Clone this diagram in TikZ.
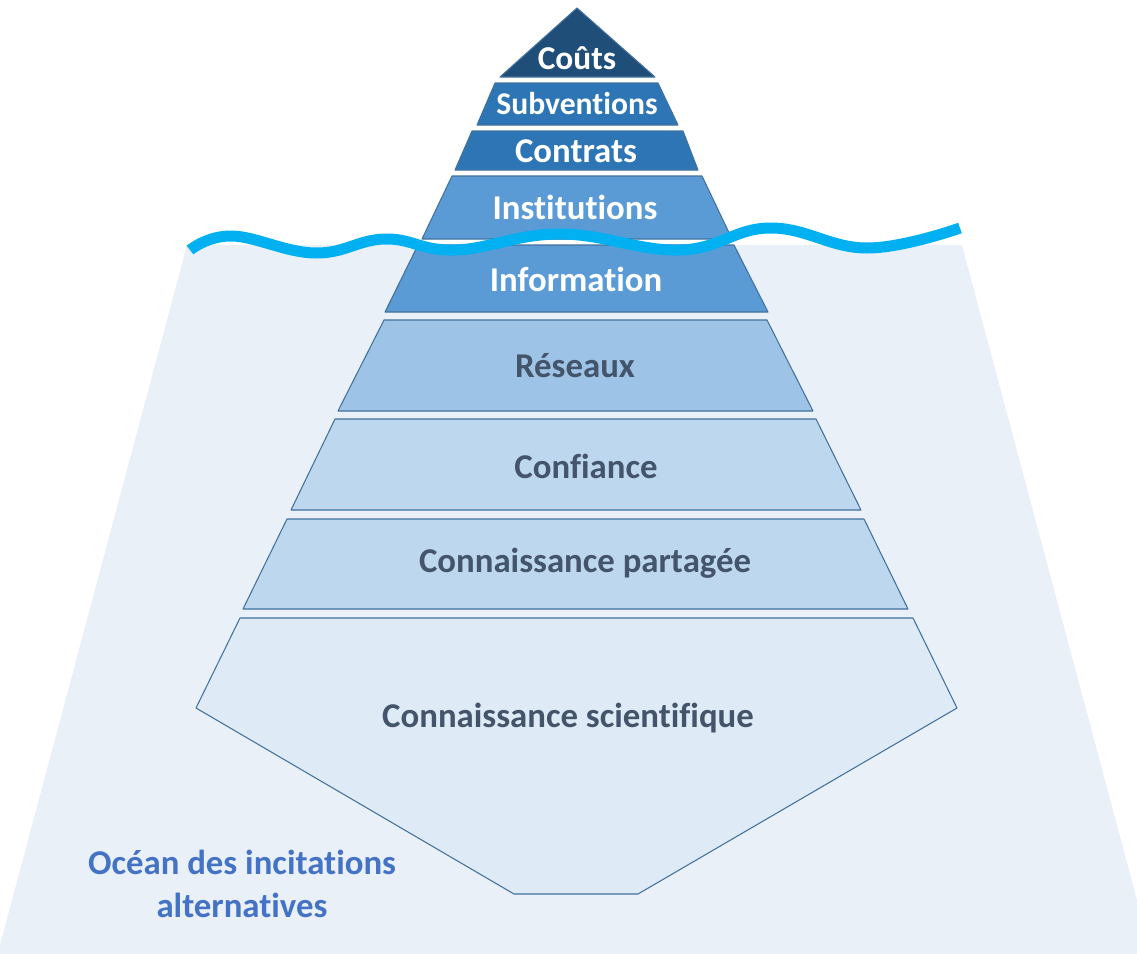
\documentclass[tikz,border=0pt]{standalone}
\usepackage{fontspec}
\setmainfont{Carlito}[Ligatures=NoCommon]
\usepackage{tikz}
\definecolor{coutsblue}{RGB}{31,78,121}
\definecolor{midblue}{RGB}{46,117,182}
\definecolor{iceblue}{RGB}{91,155,213}
\definecolor{paleblue}{RGB}{157,195,230}
\definecolor{lightblue}{RGB}{189,215,238}
\definecolor{mistblue}{RGB}{222,235,247}
\definecolor{edgeblue}{RGB}{65,113,156}
\definecolor{slatetext}{RGB}{68,84,106}
\definecolor{oceantext}{RGB}{68,114,196}
\definecolor{oceanfill}{RGB}{234,240,248}
\definecolor{waveblue}{RGB}{0,176,240}

\begin{document}
\begin{tikzpicture}[x=0.02cm,y=-0.02cm,
  band/.style={draw=edgeblue,line width=0.6pt,line join=round},
  uplabel/.style={text=white,font=\bfseries\fontsize{19.8}{22}\selectfont},
  lowlabel/.style={text=slatetext,font=\bfseries\fontsize{19.8}{22}\selectfont},
  oceanlabel/.style={text=oceantext,align=center,font=\bfseries\fontsize{19.8}{24.4}\selectfont}]
  \useasboundingbox (0,0) rectangle (1137,954);
  % ocean below the waterline
  \fill[oceanfill] (187,245) -- (962,245) -- (1137,900) -- (1137,954) -- (0,954) -- (0,945) -- cycle;
  % part of the iceberg above water
  \filldraw[band,fill=coutsblue] (577,8) -- (655,77) -- (500,77) -- cycle;
  \filldraw[band,fill=midblue] (495,83) -- (658,83) -- (678,125) -- (477,125) -- cycle;
  \filldraw[band,fill=midblue] (472,131) -- (683,131) -- (698,170) -- (455,170) -- cycle;
  \filldraw[band,fill=iceblue] (452,176) -- (702,176) -- (732,239) -- (422,239) -- cycle;
  % part below water
  \filldraw[band,fill=iceblue] (418,245) -- (734,245) -- (768,312) -- (385,312) -- cycle;
  \filldraw[band,fill=paleblue] (384,320) -- (767,320) -- (813,411) -- (338,411) -- cycle;
  \filldraw[band,fill=lightblue] (335,419) -- (816,419) -- (861,510) -- (291,510) -- cycle;
  \filldraw[band,fill=lightblue] (287,519) -- (864,519) -- (908,609) -- (243,609) -- cycle;
  \filldraw[band,fill=mistblue] (240,618) -- (913,618) -- (957,708) -- (638,894) -- (514,894) -- (196,708) -- cycle;
  % waterline
  \draw[waveblue,line width=0.22cm,line cap=butt] plot[smooth,tension=0.7] coordinates
    {(190,250) (232,236) (315,253) (385,239) (455,250) (560,234) (680,250) (770,228) (867,248) (960,228)};
  \node[uplabel,font=\bfseries\fontsize{19}{21}\selectfont] (couts) at (577,58) {Coûts};
  \node[uplabel,font=\bfseries\fontsize{18}{20}\selectfont] (subv) at (577,104) {Subventions};
  \node[uplabel] (contrats) at (576,151) {Contrats};
  \node[uplabel] (instit) at (575,207) {Institutions};
  \node[uplabel] (info) at (576,279) {Information};
  \node[lowlabel] (reseaux) at (575,366) {Réseaux};
  \node[lowlabel] (confiance) at (586,466) {Confiance};
  \node[lowlabel] (partagee) at (585,563) {Connaissance partagée};
  \node[lowlabel] (scient) at (568,718) {Connaissance scientifique};
  \node[oceanlabel] (ocean) at (242,884) {Océan des incitations\\alternatives};
\end{tikzpicture}
\end{document}
